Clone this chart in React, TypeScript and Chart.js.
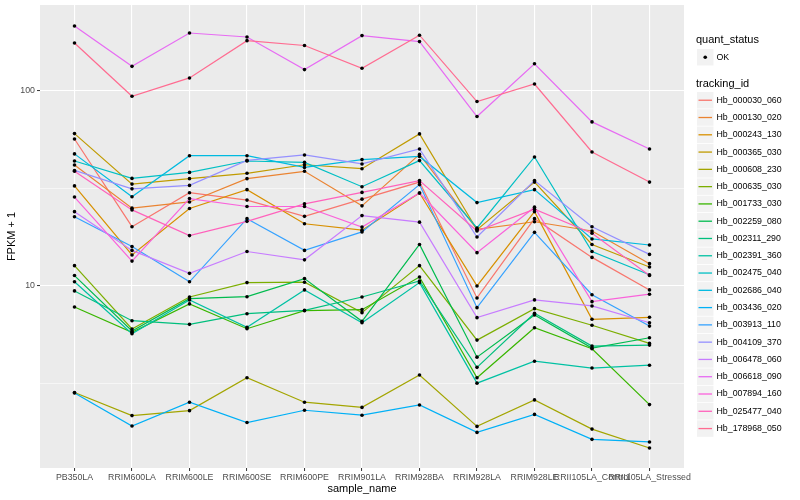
import React, { useEffect, useRef } from "react";
import { Chart, registerables } from "chart.js";

Chart.register(...registerables);

// ---------- data ----------
const categories = [
  "PB350LA", "RRIM600LA", "RRIM600LE", "RRIM600SE", "RRIM600PE", "RRIM901LA",
  "RRIM928BA", "RRIM928LA", "RRIM928LE", "RRII105LA_Control", "RRII105LA_Stressed",
];

const trackingIds = [
  "Hb_000030_060", "Hb_000130_020", "Hb_000243_130", "Hb_000365_030", "Hb_000608_230",
  "Hb_000635_030", "Hb_001733_030", "Hb_002259_080", "Hb_002311_290", "Hb_002391_360",
  "Hb_002475_040", "Hb_002686_040", "Hb_003436_020", "Hb_003913_110", "Hb_004109_370",
  "Hb_006478_060", "Hb_006618_090", "Hb_007894_160", "Hb_025477_040", "Hb_178968_050",
];

const seriesColors = [
  "#F8766D", "#EA8331", "#D89000", "#C09B00", "#A3A500",
  "#7CAE00", "#39B600", "#00BB4E", "#00BF7D", "#00C1A3",
  "#00BFC4", "#00BAE0", "#00B0F6", "#35A2FF", "#9590FF",
  "#C77CFF", "#E76BF3", "#FA62DB", "#FF62BC", "#FF6C91",
];

const hb_000030_060 = [56.5, 20.1, 30.0, 27.5, 22.7, 27.8, 34.0, 8.68, 22.1, 14.0, 9.54];
const hb_000130_020 = [41.6, 25.0, 26.9, 35.4, 38.6, 25.7, 47.1, 19.5, 21.3, 19.1, 13.0];
const hb_000243_130 = [32.5, 14.4, 24.9, 31.1, 20.8, 19.3, 29.9, 10.0, 24.0, 6.75, 6.91];
const hb_000365_030 = [60.2, 33.2, 35.4, 37.7, 41.7, 39.8, 60.0, 19.4, 34.0, 16.3, 12.5];
const hb_000608_230 = [2.85, 2.17, 2.30, 3.39, 2.54, 2.39, 3.50, 1.91, 2.61, 1.85, 1.48];
const hb_000635_030 = [12.7, 6.02, 8.78, 10.4, 10.45, 7.30, 12.7, 5.28, 7.65, 6.29, 5.08];
const hb_001733_030 = [7.80, 5.79, 8.09, 6.04, 7.47, 7.56, 11.1, 3.39, 6.11, 4.77, 2.47];
const hb_002259_080 = [11.3, 5.88, 8.61, 8.81, 10.9, 6.59, 16.3, 4.32, 7.10, 4.81, 5.43];
const hb_002311_290 = [9.43, 6.64, 6.36, 7.21, 7.50, 8.78, 10.6, 3.83, 7.24, 4.92, 4.98];
const hb_002391_360 = [10.5, 5.69, 8.48, 6.14, 9.54, 6.48, 10.4, 3.18, 4.12, 3.80, 3.93];
const hb_002475_040 = [43.6, 35.5, 38.1, 43.6, 42.9, 32.2, 43.8, 19.8, 45.7, 15.0, 11.4];
const hb_002686_040 = [47.4, 28.6, 46.4, 46.4, 40.4, 44.3, 46.0, 26.7, 31.1, 17.4, 16.2];
const hb_003436_020 = [2.83, 1.92, 2.54, 2.00, 2.31, 2.18, 2.46, 1.78, 2.20, 1.64, 1.59];
const hb_003913_110 = [22.6, 15.9, 10.5, 22.1, 15.2, 18.9, 33.0, 7.74, 18.8, 9.02, 6.23];
const hb_004109_370 = [39.0, 31.4, 32.7, 43.9, 46.8, 42.1, 50.2, 17.8, 34.6, 20.1, 14.5];
const hb_006478_060 = [24.0, 15.2, 11.6, 15.0, 13.6, 22.9, 21.2, 6.88, 8.48, 7.90, 6.48];
const hb_006618_090 = [214, 133, 197, 188, 128, 191, 178, 73.6, 137, 69.1, 50.2];
const hb_007894_160 = [28.5, 13.4, 28.0, 25.5, 25.5, 20.0, 29.9, 14.8, 25.3, 8.31, 9.07];
const hb_025477_040 = [38.6, 24.5, 18.1, 21.4, 26.3, 30.1, 34.6, 19.1, 24.7, 18.6, 11.3];
const hb_178968_050 = [175, 93.5, 116, 180, 170, 130, 192, 87.8, 108, 48.5, 34.0];

const seriesValues = [
  hb_000030_060, hb_000130_020, hb_000243_130, hb_000365_030, hb_000608_230,
  hb_000635_030, hb_001733_030, hb_002259_080, hb_002311_290, hb_002391_360,
  hb_002475_040, hb_002686_040, hb_003436_020, hb_003913_110, hb_004109_370,
  hb_006478_060, hb_006618_090, hb_007894_160, hb_025477_040, hb_178968_050,
];

const yMajorTicks = [10, 100];
const yMinorTicks = [3.1623, 31.623];
const yLimits = [1.17, 274];
const xTitle = "sample_name";
const yTitle = "FPKM + 1";
const statusTitle = "quant_status";
const statusLabels = ["OK"];
const trackingTitle = "tracking_id";

const FONT = '"Liberation Sans", Arial, Helvetica, sans-serif';

const ggDecor = {
  id: "ggDecor",
  beforeDraw(chart: any) {
    const { ctx, chartArea: a } = chart;
    ctx.save();
    ctx.fillStyle = "#FFFFFF";
    ctx.fillRect(0, 0, chart.width, chart.height);
    ctx.fillStyle = "#EBEBEB";
    ctx.fillRect(a.left, a.top, a.right - a.left, a.bottom - a.top);
    ctx.restore();
  },
  afterDraw(chart: any) {
    const { ctx, chartArea: a } = chart;
    ctx.save();
    // axis titles
    ctx.fillStyle = "#000000";
    ctx.font = `11px ${FONT}`;
    ctx.textAlign = "center";
    ctx.textBaseline = "middle";
    ctx.fillText(xTitle, (a.left + a.right) / 2, 488.5);
    ctx.save();
    ctx.translate(12, (a.top + a.bottom) / 2);
    ctx.rotate(-Math.PI / 2);
    ctx.fillText(yTitle, 0, 0);
    ctx.restore();

    // legend
    const lx = 697;
    const key = 17.28;
    ctx.textAlign = "left";
    ctx.font = `11px ${FONT}`;
    ctx.fillText(statusTitle, 696, 40);
    statusLabels.forEach((lab, i) => {
      const top = 49 + i * key;
      ctx.fillStyle = "#F2F2F2";
      ctx.fillRect(lx, top, key - 0.8, key - 0.8);
      ctx.fillStyle = "#000000";
      ctx.beginPath();
      ctx.arc(lx + key / 2 - 0.4, top + key / 2 - 0.4, 1.8, 0, Math.PI * 2);
      ctx.fill();
      ctx.font = `8.8px ${FONT}`;
      ctx.textBaseline = "middle";
      ctx.fillText(lab, 716.5, top + key / 2 - 0.4);
    });

    ctx.font = `11px ${FONT}`;
    ctx.fillStyle = "#000000";
    ctx.fillText(trackingTitle, 696, 84);
    trackingIds.forEach((name, i) => {
      const top = 92 + i * key;
      ctx.fillStyle = "#F2F2F2";
      ctx.fillRect(lx, top, key - 0.8, key - 0.8);
      const cy = top + key / 2 - 0.4;
      ctx.strokeStyle = seriesColors[i];
      ctx.lineWidth = 1.3;
      ctx.beginPath();
      ctx.moveTo(lx + 1.5, cy);
      ctx.lineTo(lx + key - 2.3, cy);
      ctx.stroke();
      ctx.fillStyle = "#000000";
      ctx.font = `8.8px ${FONT}`;
      ctx.fillText(name, 716.5, cy);
    });
    ctx.restore();
  },
};

export default function App() {
  const ref = useRef<HTMLCanvasElement | null>(null);

  useEffect(() => {
    if (!ref.current) return;
    const lineSets = seriesValues.map((vals, i) => ({
      label: trackingIds[i],
      data: vals.map((v, j) => ({ x: j, y: v })),
      borderColor: seriesColors[i],
      backgroundColor: seriesColors[i],
      borderWidth: 1.2,
      pointRadius: 0,
      tension: 0,
      fill: false,
      order: 40 - i,
    }));
    const pointSets = seriesValues.map((vals, i) => ({
      label: trackingIds[i] + " " + statusLabels[0],
      data: vals.map((v, j) => ({ x: j, y: v })),
      showLine: false,
      pointRadius: 1.8,
      pointBorderWidth: 0,
      pointBackgroundColor: "#000000",
      borderColor: "#000000",
      order: 0,
    }));

    const chart = new Chart(ref.current, {
      type: "line",
      data: { datasets: [...pointSets, ...lineSets] as any },
      plugins: [ggDecor],
      options: {
        animation: false,
        responsive: true,
        maintainAspectRatio: false,
        devicePixelRatio: 1,
        events: [],
        layout: { padding: { top: 5, right: 116, left: 0, bottom: 0 } },
        plugins: { legend: { display: false }, tooltip: { enabled: false } },
        scales: {
          x: {
            type: "linear",
            min: -0.6,
            max: categories.length - 1 + 0.6,
            afterBuildTicks: (s: any) => {
              s.ticks = categories.map((_, i) => ({ value: i }));
            },
            afterFit: (s: any) => {
              s.height = 32;
              s.paddingLeft = 0;
              s.paddingRight = 0;
            },
            ticks: {
              autoSkip: false,
              maxRotation: 0,
              minRotation: 0,
              padding: 1,
              color: "#4D4D4D",
              font: { family: FONT, size: 8.8 },
              callback: (v: any) => categories[v as number] ?? "",
            },
            grid: {
              color: "#FFFFFF",
              lineWidth: 1.1,
              drawTicks: true,
              tickLength: 3,
              tickColor: "#333333",
              tickWidth: 1,
            },
            border: { display: false },
          },
          y: {
            type: "logarithmic",
            min: yLimits[0],
            max: yLimits[1],
            afterBuildTicks: (s: any) => {
              s.ticks = [yMinorTicks[0], yMajorTicks[0], yMinorTicks[1], yMajorTicks[1]].map((v) => ({ value: v }));
            },
            afterFit: (s: any) => {
              s.width = 40;
              s.paddingTop = 0;
              s.paddingBottom = 0;
            },
            ticks: {
              padding: 2,
              color: "#4D4D4D",
              font: { family: FONT, size: 8.8 },
              callback: (v: any) => (yMajorTicks.includes(v as number) ? String(v) : ""),
            },
            grid: {
              color: "#FFFFFF",
              lineWidth: (c: any) => (yMajorTicks.includes(c.tick?.value) ? 1.1 : 0.55),
              drawTicks: true,
              tickLength: 3,
              tickWidth: 1,
              tickColor: (c: any) => (yMajorTicks.includes(c.tick?.value) ? "#333333" : "rgba(0,0,0,0)"),
            },
            border: { display: false },
          },
        },
      } as any,
    });
    return () => chart.destroy();
  }, []);

  return (
    <div style={{ position: "absolute", left: 0, top: 0, width: 800, height: 500, background: "#fff" }}>
      <canvas ref={ref} width={800} height={500} />
    </div>
  );
}
